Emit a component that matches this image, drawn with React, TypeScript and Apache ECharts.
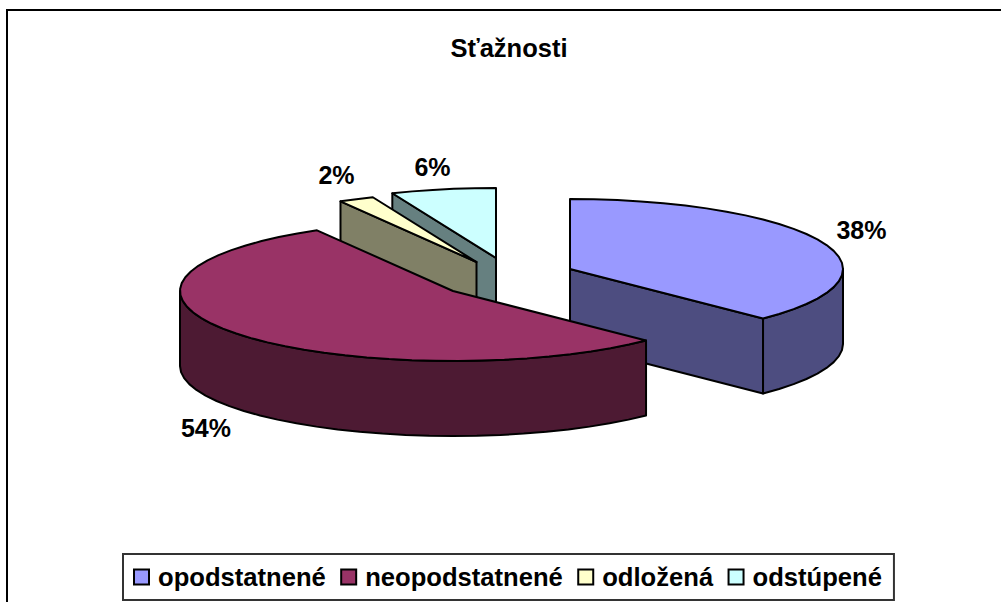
import React, { useEffect, useRef } from "react";
import * as echarts from "echarts";

const categories = ["opodstatnené", "neopodstatnené", "odložená", "odstúpené"];
const shares = [37.5, 54.2, 2.1, 6.2];
const topColors = ["#9999FF", "#993366", "#FFFFCC", "#CCFFFF"];
const sideColors = ["#4D4D80", "#4D1A33", "#808066", "#668080"];
const titleText = "Sťažnosti";

// layout of the exploded slices (not data)
const centers = [[570, 269], [453, 291], [476.5, 262], [496, 258]];
const labelCenters = [[861.5, 230], [206, 428], [336.5, 175], [432.5, 167]];
const drawOrder = [1, 4, 3, 2]; // z per slice: back to front
const RX = 273;
const RY = 70;
const DEPTH = 75;
const FONT = "'Liberation Sans', Arial, sans-serif";

const total = shares.reduce((a, b) => a + b, 0);
const startOf = (i: number) =>
  (shares.slice(0, i).reduce((a, b) => a + b, 0) / total) * 360;

function arc(cx: number, cy: number, from: number, to: number) {
  const pts: number[][] = [];
  const n = Math.max(1, Math.ceil((to - from) / 5));
  for (let k = 0; k <= n; k++) {
    const d = ((from + ((to - from) * k) / n) * Math.PI) / 180;
    pts.push([cx + RX * Math.sin(d), cy - RY * Math.cos(d)]);
  }
  return pts;
}

function sliceSeries(i: number) {
  return {
    type: "custom",
    name: categories[i],
    coordinateSystem: "none",
    z: drawOrder[i],
    silent: true,
    data: [[shares[i]]],
    itemStyle: { color: topColors[i] },
    renderItem: (_p: any, api: any) => {
      const value = api.value(0) as number;
      const a = startOf(i);
      const b = a + (value / total) * 360;
      const [cx, cy] = centers[i];
      const line = { stroke: "#000", lineWidth: 2, lineJoin: "round" };
      const side = { ...line, fill: sideColors[i] };
      const children: any[] = [];
      const face = (pts: number[][], style: any) =>
        children.push({ type: "polygon", shape: { points: pts }, style });
      const cut = (deg: number) => {
        const [p] = arc(cx, cy, deg, deg);
        face(
          [[cx, cy], p, [p[0], p[1] + DEPTH], [cx, cy + DEPTH]],
          side,
        );
      };
      if (a >= 180) cut(a);
      if (b <= 180) cut(b);
      const from = Math.max(a, 90);
      const to = Math.min(b, 270);
      if (to > from) {
        const upper = arc(cx, cy, from, to);
        const lower = upper.map((p) => [p[0], p[1] + DEPTH]).reverse();
        face([...upper, ...lower], side);
      }
      face([[cx, cy], ...arc(cx, cy, a, b)], { ...line, fill: topColors[i] });
      children.push({
        type: "text",
        style: {
          x: labelCenters[i][0],
          y: labelCenters[i][1],
          text: `${Math.round((value / total) * 100)}%`,
          fill: "#000",
          font: `bold 25px ${FONT}`,
          align: "center",
          verticalAlign: "middle",
        },
      });
      return { type: "group", children };
    },
  };
}

export default function App() {
  const ref = useRef<HTMLDivElement>(null);
  useEffect(() => {
    document.body.style.margin = "0";
    const chart = echarts.init(ref.current!, undefined, { renderer: "svg" });
    chart.setOption({
      animation: false,
      backgroundColor: "#fff",
      title: {
        text: titleText,
        left: 504,
        top: 30,
        textAlign: "center",
        textStyle: { fontFamily: FONT, fontWeight: "bold", fontSize: 25.5, color: "#000" },
      },
      legend: {
        left: 123,
        top: 554,
        orient: "horizontal",
        icon: "rect",
        itemWidth: 15,
        itemHeight: 15,
        itemGap: 14.4,
        padding: [10, 12, 10, 10],
        backgroundColor: "#fff",
        borderColor: "#333",
        borderWidth: 2,
        selectedMode: false,
        textStyle: { fontFamily: FONT, fontWeight: "bold", fontSize: 25.6, color: "#000", padding: [0, 0, 0, 4] },
        data: categories.map((name, i) => ({
          name,
          itemStyle: { color: topColors[i], borderColor: "#000", borderWidth: 2 },
        })),
      },
      graphic: [
        {
          type: "rect",
          silent: true,
          z: 0,
          shape: { x: 7, y: 10, width: 1100, height: 700 },
          style: { fill: "none", stroke: "#000", lineWidth: 2 },
        },
      ],
      series: categories.map((_, i) => sliceSeries(i)),
    });
    return () => chart.dispose();
  }, []);
  return <div ref={ref} style={{ width: 1001, height: 602, position: "absolute", left: 0, top: 0 }} />;
}
